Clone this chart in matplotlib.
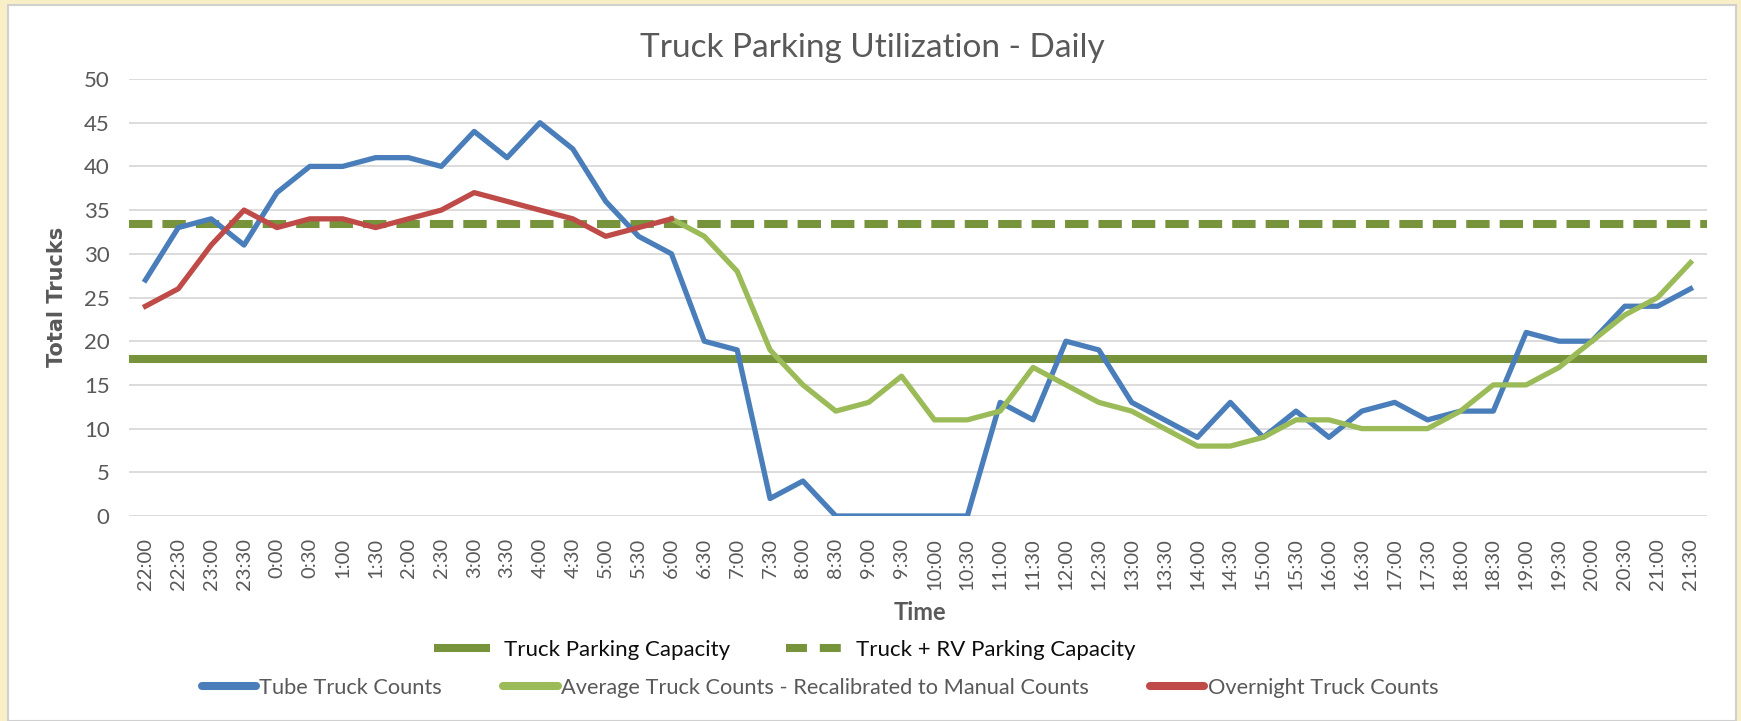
import matplotlib.pyplot as plt
from matplotlib.lines import Line2D
from matplotlib.patches import Rectangle

times = ["22:00", "22:30", "23:00", "23:30", "0:00", "0:30", "1:00", "1:30",
         "2:00", "2:30", "3:00", "3:30", "4:00", "4:30", "5:00", "5:30",
         "6:00", "6:30", "7:00", "7:30", "8:00", "8:30", "9:00", "9:30",
         "10:00", "10:30", "11:00", "11:30", "12:00", "12:30", "13:00", "13:30",
         "14:00", "14:30", "15:00", "15:30", "16:00", "16:30", "17:00", "17:30",
         "18:00", "18:30", "19:00", "19:30", "20:00", "20:30", "21:00", "21:30"]

tube_counts = [27, 33, 34, 31, 37, 40, 40, 41, 41, 40, 44, 41, 45, 42, 36, 32,
               30, 20, 19, 2, 4, 0, 0, 0, 0, 0, 13, 11, 20, 19, 13, 11,
               9, 13, 9, 12, 9, 12, 13, 11, 12, 12, 21, 20, 20, 24, 24, 26]

# average counts start at 6:00
avg_start = 16
avg_counts = [34, 32, 28, 19, 15, 12, 13, 16, 11, 11, 12, 17, 15, 13, 12, 10,
              8, 8, 9, 11, 11, 10, 10, 10, 12, 15, 15, 17, 20, 23, 25, 29]

# overnight counts run 22:00 - 6:00
overnight_counts = [24, 26, 31, 35, 33, 34, 34, 33, 34, 35, 37, 36, 35, 34, 32, 33, 34]

truck_capacity = 18
truck_rv_capacity = 33.4

BLUE = "#4A7EBB"
LGREEN = "#9BBB59"
RED = "#BE4B48"
DGREEN = "#77933C"
GRAY = "#595959"
FONT = "Lato"

fig = plt.figure(figsize=(17.41, 7.21), dpi=100, facecolor="#F9EFC7")
fig.patches.append(Rectangle((8 / 1741, 0), 1728 / 1741, 1 - 5 / 721,
                             transform=fig.transFigure, facecolor="white",
                             edgecolor="#D0D0D0", lw=1.5, zorder=-5))

ax = fig.add_axes([129 / 1741, 1 - 516 / 721, (1707 - 129) / 1741, (516 - 79) / 721])
ax.set_zorder(2)
ax.set_facecolor("none")

x = list(range(len(times)))

ax.axhline(truck_capacity, color=DGREEN, lw=5.8, zorder=2)
ax.axhline(truck_rv_capacity, color=DGREEN, lw=5.8, dashes=(2.9, 1.25), zorder=2)

ax.plot(x, tube_counts, color=BLUE, lw=3.8, zorder=3)
ax.plot(x[avg_start:avg_start + len(avg_counts)], avg_counts, color=LGREEN, lw=3.8, zorder=3)
ax.plot(x[:len(overnight_counts)], overnight_counts, color=RED, lw=3.8, zorder=4)

ax.set_xlim(-0.5, len(times) - 0.5)
ax.set_ylim(0, 50)
ax.set_yticks(range(0, 51, 5))
ax.set_xticks(x)
ax.set_xticklabels(times, rotation=90, va="top", ha="center")
ax.tick_params(length=0, labelcolor=GRAY)
ax.tick_params(axis="y", labelsize=16, pad=14)
ax.tick_params(axis="x", labelsize=14.5, pad=16)
for lbl in ax.get_xticklabels() + ax.get_yticklabels():
    lbl.set_fontfamily(FONT)

ax.grid(axis="y", color="#D9D9D9", lw=1.3, zorder=1)
ax.set_axisbelow(True)
for s in ax.spines.values():
    s.set_visible(False)

fig.text(872 / 1741, 1 - 48 / 721, "Truck Parking Utilization - Daily",
         ha="center", va="center", fontsize=24, color=GRAY, family=FONT)
fig.text(57 / 1741, 1 - 297 / 721, "Total Trucks", rotation=90, ha="center", va="center",
         fontsize=15, fontweight="bold", color=GRAY, family="DejaVu Sans")
fig.text(920 / 1741, 1 - 612 / 721, "Time", ha="center", va="center",
         fontsize=17, fontweight="bold", color=GRAY, family=FONT)

cap_handles = [
    Line2D([], [], color=DGREEN, lw=5.8, solid_capstyle="butt"),
    Line2D([], [], color=DGREEN, lw=5.8, dashes=(2.6, 1.6)),
]
leg1 = fig.legend(cap_handles, ["Truck Parking Capacity", "Truck + RV Parking Capacity"],
                  loc="center", bbox_to_anchor=(785 / 1741, 1 - 650 / 721), ncol=2,
                  frameon=False, prop={"family": FONT, "size": 16},
                  handlelength=2.5, handletextpad=0.65, columnspacing=2.5)
for t in leg1.get_texts():
    t.set_color("#0D0D0D")

series_handles = [
    Line2D([], [], color=BLUE, lw=5.8, solid_capstyle="round"),
    Line2D([], [], color=LGREEN, lw=5.8, solid_capstyle="round"),
    Line2D([], [], color=RED, lw=5.8, solid_capstyle="round"),
]
leg2 = fig.legend(series_handles, ["Tube Truck Counts",
                                   "Average Truck Counts - Recalibrated to Manual Counts",
                                   "Overnight Truck Counts"],
                  loc="center", bbox_to_anchor=(820 / 1741, 1 - 688 / 721), ncol=3,
                  frameon=False, prop={"family": FONT, "size": 15.7},
                  handlelength=2.5, handletextpad=0.15, columnspacing=2.8)
for t in leg2.get_texts():
    t.set_color(GRAY)

fig.savefig("out.png", dpi=100, facecolor=fig.get_facecolor())
